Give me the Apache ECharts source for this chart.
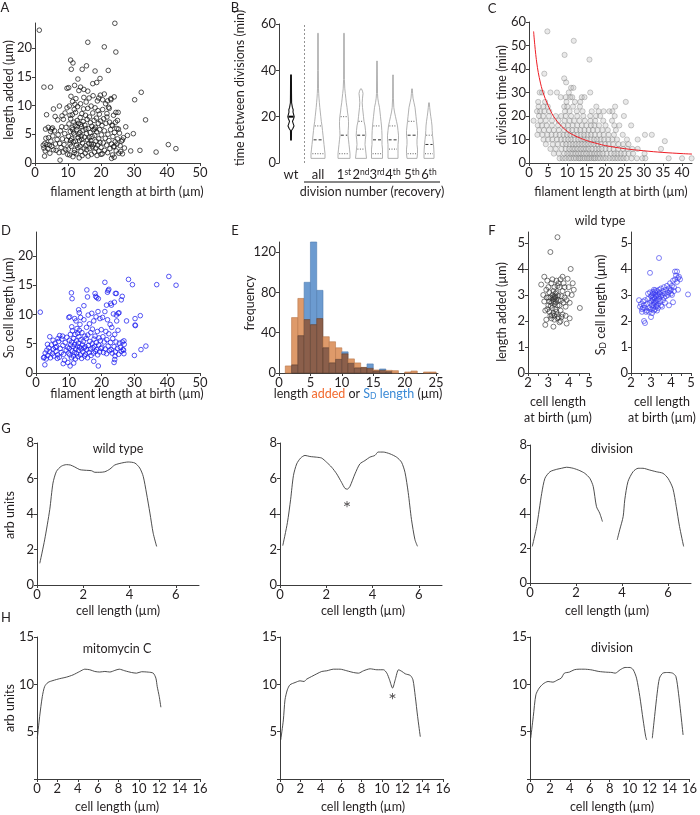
<!DOCTYPE html>
<html><head><meta charset="utf-8">
<script src="https://cdn.jsdelivr.net/npm/echarts@6/dist/echarts.min.js"></script>
<style>html,body{margin:0;padding:0;background:#fff}#c{width:700px;height:815px}</style>
</head><body><div id="c"></div>
<script>
// ---------------- DATA ----------------
// Panel A: filament length at birth (µm) vs length added (µm)
const A_points = [
[1.3,23.1],[24.2,24.3],[16,21],[21,20.2],[24.5,19.3],[10.8,17.9],[11.5,17.4],[11,16.3],[15.6,16.9],[14.3,16.3],[18.2,16],[22.2,16.1],[2.7,13.2],[4.7,13.2],[13,14.6],[19.7,14.7],[17.5,13.8],[18.7,14],[9.7,13],[10.2,13.1],[12,13.5],[13.8,13.2],[14.8,12.8],[16,12.5],[30.2,11],[32.2,12.3],[33.5,7.5],[29.8,5.1],[31.8,2.2],[29,2.1],[36.7,1.9],[40.4,3.2],[42.7,2.5],[27.5,6.3],[28,4.8],[26.5,4],[26,2],[24.5,8.8],[25,7.4],[24,11.5],[23,11.2],[22,10.8],[22.5,9.5],[21,12],[20.5,11],[19.3,11.3],[21.8,8],[23.5,6.5],[25.3,5.9],[24.8,3.3],[23.8,2.8],[24,1],[23.2,0.8],[20,1.5],
[2.5,3.1],[2.7,2.6],[3,3.4],[3.3,4.3],[3.1,2.1],[3.6,3.2],[3.9,2.5],[4.1,4.4],[4.4,3.1],[2.9,1.2],[4.5,1.7],[4.8,3.8],[5.1,2.9],[5.4,4.7],[5.6,2.3],[5.9,5.6],[6.2,3.3],[6.4,2.2],[6.7,4.1],[7,4.9],[7.3,1.8],[7.5,3.4],[7.7,5.6],[7.9,2.7],[8.1,6.3],[8.3,4.2],[8.5,1.9],[8.6,7.6],[8.8,3.2],[9,5.1],[9.1,8.7],[9.3,2.3],[9.4,6.2],[9.6,4],[9.7,9.6],[9.9,1.5],[4,6.2],[5,5.9],[3.5,8.4],[5.6,9.4],[6.1,8.1],[7.4,9.9],[6.9,7.5],[8.2,8.2],[7.6,0.5],[5.3,6.1],[4.7,5.5],[3.2,5.9],
[10.1,2.4],[10.2,4.6],[10.3,6.8],[10.4,9.9],[10.5,1.4],[10.6,3.3],[10.7,5.5],[10.8,7.7],[10.9,11.6],[11,2.9],[11.1,4.2],[11.2,6.1],[11.3,8.4],[11.4,10.7],[11.5,1.1],[11.6,3.7],[11.7,5.2],[11.8,7.1],[11.9,9.3],[12,2.2],[12.1,4.9],[12.2,6.6],[12.3,8.8],[12.4,11.2],[12.5,1.6],[12.6,3.1],[12.7,5.8],[12.8,7.4],[12.9,9.8],[13,2.7],[13.1,4.4],[13.2,6.9],[13.3,12.6],[13.4,0.9],[13.5,3.9],[13.6,5.3],[13.7,7.9],[13.8,10.3],[13.9,2],[14,4.7],[14.1,6.3],[14.2,8.6],[14.3,1.3],[14.4,3.5],[14.5,5.7],[14.6,7.2],[14.7,9.4],[14.8,11.4],[14.9,2.6],[12.2,3.8],[11.4,5.8],[13.3,5],[12.7,6.3],[10.8,3.9],[11.9,1.8],[13.6,2.9],[14.2,4.1],[10.6,8.3],[12.1,10.2],[13.9,6.7],
[15,4.5],[15.1,6.6],[15.2,1.7],[15.3,8.3],[15.4,3],[15.5,10.6],[15.6,5.1],[15.7,2.3],[15.8,7.6],[15.9,4],[16,9.5],[16.1,1.2],[16.2,6],[16.3,3.4],[16.4,11.3],[16.5,8],[16.6,2.5],[16.7,5.3],[16.8,7],[16.9,3.9],[17,9.9],[17.1,1.5],[17.2,6.4],[17.3,4.6],[17.4,2.8],[17.5,8.7],[17.6,11.7],[17.7,5.8],[17.8,3.2],[17.9,7.4],[18,1.9],[18.1,4.8],[18.2,9.6],[18.3,6.2],[18.4,2.6],[18.5,3.8],[18.6,7.8],[18.7,5.4],[18.8,1.3],[18.9,10.8],[19,3.1],[19.2,6.9],[19.3,4.2],[19.4,2.1],[19.5,8.5],[19.6,5.8],[19.7,3.6],[19.8,11.8],[19.9,7.3],[16.5,4.4],[17.1,3.3],[15.4,5.9],[18.1,5.9],[19.1,9.1],
[20,2.7],[20.1,4.9],[20.3,6.5],[20.4,1.6],[20.5,9.3],[20.7,3.5],[20.8,7.7],[21,5.6],[21.1,2.2],[21.3,4.3],[21.4,10.3],[21.5,6.9],[21.7,3.1],[21.8,8.6],[22,1.8],[22.1,5],[22.3,9.7],[22.4,3.9],[22.6,7.1],[22.7,2.5],[22.9,5.8],[23,11],[23.2,3.3],[23.3,6.6],[23.5,1.4],[23.6,4.6],[23.8,8.3],[24,2.9],[24.1,5.3],[24.3,3.7],[24.4,7.1],[24.6,2.1],[24.8,6],[25,4.2],[25.2,8.8],[25.4,1.7],[25.6,5.2],[25.8,3],[26.2,3.8],[26.5,1.6],[26.8,4.4],[27.1,2.6]
];

// Panel B: time between divisions (min) – violin profiles [minutes, relative half-width]
const B_labels = ['wt','all','1st','2nd','3rd','4th','5th','6th'];
const B_profiles = [
 [[10,0.4],[14,0.5],[15,2],[16,3],[17,2.2],[18,1.5],[19,2.5],[20,3.2],[21,2.6],[22,2],[23,2.2],[24,1.4],[26,0.6],[30,0.5],[38,0.4]],
 [[2,7],[4,7],[6,6.5],[8,6],[10,5.5],[12,5],[14,4.5],[16,4],[18,3.3],[20,2.8],[22,2.3],[24,1.8],[26,1.4],[28,1],[30,0.7],[32,0.5],[40,0.35],[56,0.3]],
 [[2,6],[4,6],[6,5.5],[8,5],[10,4.5],[12,4],[14,4.2],[16,4.5],[18,4.5],[20,4.2],[22,3.5],[24,3],[26,2.3],[28,1.8],[30,1.3],[32,0.8],[36,0.4],[56,0.3]],
 [[2,5.5],[4,5],[6,4.5],[8,4],[10,4.3],[12,4.8],[14,4.5],[16,4],[18,3],[20,2.5],[22,2],[24,1.5],[26,1.2],[28,1.5],[30,2],[31,1.5],[32,0.5]],
 [[2,5.5],[4,5.5],[6,5.5],[8,5],[10,5],[12,5],[14,4.8],[16,4.5],[18,4],[20,3.5],[22,3],[24,2.5],[26,1.5],[28,0.8],[30,0.5],[44,0.3]],
 [[2,5],[4,5],[6,5],[8,5],[10,5.5],[12,5.5],[14,5],[16,4.5],[18,3.5],[20,2.5],[22,1.5],[24,0.8],[28,0.4],[38,0.3]],
 [[2,5],[4,5.5],[6,5.5],[8,5],[10,5],[12,5.5],[14,5.5],[16,5],[18,4.5],[20,4],[22,3.5],[24,3],[26,2],[28,1],[30,0.6],[32,0.3]],
 [[2,5],[4,5],[6,4.8],[8,4.5],[10,4],[12,3.5],[14,3.2],[16,3],[18,2.5],[20,1.8],[22,1.2],[24,0.7],[26,0.3]]
];
const B_median = [20,10,12,12,10,10,12,8];
const B_q1 = [16,4,4,6,4,6,4,4];
const B_q3 = [22,16,20,18,16,16,18,12];

// Panel C: filament length at birth (µm) vs division time (min)
const C_points = [
[4.8,56],[11.7,52],[9.3,46],[15.8,44],[4,38],[9.2,36],[9.7,34.3],[11,32],[11.6,32],
[8.3,28],[9.6,28],[10.8,28],[11.3,28],[13.8,28],[14.5,28],
[2.8,30],[3.4,30],[5.6,30],[7.3,30],[10.4,30],[16,30],
[2.4,26],[4.2,26],[9.8,26],[12,26],[13.4,26],[25.3,26],
[2.5,24],[3.8,24],[4.9,24],[9.2,24],[10,24],[11.5,24],[13.3,24],[17.6,24],[22.5,24],
[2.1,22],[2.9,22],[4,22],[5.3,22],[9.4,22],[10.6,22],[12.5,22],[14,22],[16.4,22],[18.2,22],[19.5,22],[21,22],[21.8,22],
[2.6,20],[3.7,20],[5.2,20],[7,20],[8.4,20],[9.6,20],[11,20],[12.6,20],[14.2,20],[16,20],[17.5,20],[18.6,20],[22.4,20],[24.8,20],
[1.2,18],[3,18],[4.4,18],[6,18],[7.7,18],[9.3,18],[10.6,18],[11.8,18],[13.2,18],[14.6,18],[16.1,18],[17.3,18],[19.4,18],[21.7,18],
[2.3,16],[3.4,16],[4.6,16],[6,16],[7.6,16],[9,16],[10.2,16],[11.4,16],[12.6,16],[13.8,16],[15,16],[16.2,16],[17.1,16],[18.3,16],[20,16],[22.3,16],[23.6,16],[26.7,16],
[2.6,14],[3.9,14],[5.2,14],[6.5,14],[7.8,14],[9.2,14],[10.3,14],[11.3,14],[12.4,14],[13.4,14],[14.5,14],[15.6,14],[16.7,14],[17.9,14],[19.2,14],[20.6,14],[22.7,14],
[2.2,12],[3.5,12],[4.8,12],[5.9,12],[7,12],[8,12],[9,12],[9.9,12],[10.8,12],[11.7,12],[12.6,12],[13.5,12],[14.4,12],[15.3,12],[16.2,12],[17.2,12],[18.4,12],[19.5,12],[20.8,12],[22.2,12],[24.5,12],[30.3,12],[32.1,12],
[3.8,10],[5,10],[6.1,10],[7.3,10],[8.4,10],[9.3,10],[10.2,10],[11,10],[11.9,10],[12.8,10],[13.6,10],[14.4,10],[15.2,10],[16.1,10],[17,10],[17.8,10],[18.7,10],[19.6,10],[20.7,10],[21.8,10],[23,10],[25.6,10],[28.4,10],[35.5,9.3],
[4.4,8],[6.2,8],[7.5,8],[8.8,8],[9.7,8],[10.6,8],[11.4,8],[12.2,8],[13,8],[13.8,8],[14.6,8],[15.4,8],[16.2,8],[17,8],[17.9,8],[18.8,8],[19.9,8],[20.8,8],[22,8],[23.4,8],[24.6,8],[26,8],
[5.6,6],[7,6],[8.5,6],[9.6,6],[10.5,6],[11.3,6],[12,6],[12.7,6],[13.5,6],[14.2,6],[14.9,6],[15.6,6],[16.5,6],[17.4,6],[18.2,6],[19,6],[20,6],[21,6],[22.1,6],[23.3,6],[24.6,6],[25.7,6],[27,6],[28.4,6],[34.5,6],
[6.5,4],[7.8,4],[9.2,4],[10,4],[10.8,4],[11.5,4],[12.2,4],[12.9,4],[13.6,4],[14.3,4],[15,4],[15.8,4],[16.4,4],[17.1,4],[17.8,4],[18.5,4],[19.3,4],[20.3,4],[21.4,4],[22.3,4],[23.1,4],[24,4],[24.9,4],[26,4],[27.2,4],[30.2,4],
[8,2],[8.8,2],[9.5,2],[10.4,2],[11,2],[11.7,2],[12.3,2],[13,2],[13.4,2],[14,2],[14.6,2],[15.2,2],[15.7,2],[16.3,2],[16.9,2],[17.3,2],[18,2],[18.6,2],[19.4,2],[20.1,2],[21,2],[21.8,2],[22.5,2],[23.2,2],[24,2],[24.7,2],[25.5,2],[26.8,2],[28.2,2],[29.6,2],[30.4,2],[36.5,2],[40,2],[42.5,2]
];
const C_fit = [[1.2,56],[2,43],[3,34],[4,28.5],[5,24.5],[6,21],[7,18.5],[8,16.5],[10,13.5],[12,11.6],[15,9.6],[18,8.2],[20,7.4],[25,6.1],[30,5.2],[35,4.5],[40,4],[42.6,3.8]];

// Panel D: filament length at birth (µm) vs SD cell length (µm)
const D_points = [
[1.3,10.4],[40.5,16.5],[42.7,15],[36.8,15.1],[28.2,16],[29.4,15.1],[21,15.5],[22,14.1],[21.8,13.8],[22.2,14.3],[24.2,13.6],[24.5,13.6],[26.3,13.1],[26,12.5],[10.8,13.7],[11,12.7],[15.5,14.2],[15.7,13],[18,13.6],[18.2,13.1],[18.5,12.9],[19,12.7],[13,10.8],[13.2,10.3],[10,9.5],[10.3,9.6],[14.6,11.5],[21.5,11.6],[23,11.6],[22.8,11.9],[25.3,10.3],[24.5,9.9],[27.6,8.9],[30.2,9.3],[31.8,9.8],[30.2,8.2],[30.3,8.1],[33.5,4.6],[32,4],[30,3],[26.8,3.3],[26.5,4],[26.8,5.5],[24,2.3],[23.8,1.8],[19,1.2],[17.6,2],[8.3,1.6],[10.4,1.2],[9.7,1.8],[11.5,1.7],[2.7,1.4],[2.3,2.6],
[2.5,2.7],[2.8,3.4],[3.1,2.4],[3.3,3.9],[3.6,3],[3.9,4.3],[4.2,3.6],[4.4,2.6],[4.7,4.8],[5,3.3],[5.3,4.1],[5.5,2.9],[5.8,5.1],[6.1,3.7],[6.3,4.5],[6.6,3.1],[6.9,5.4],[7.1,2.7],[7.4,4.2],[7.7,3.5],[7.9,5.8],[8.2,4.7],[8.4,3.2],[8.7,2.2],[8.9,5.2],[9.2,3.9],[9.4,6.1],[9.6,4.4],[9.9,3.4],[3.5,4.9],[5.2,5.6],[6.7,5.9],[8.1,6.3],[4.2,6.2],[7.2,6.4],[6.5,2.5],[5.9,4.4],
[10.1,4.2],[10.2,5.6],[10.3,3.1],[10.5,6.6],[10.6,4.8],[10.8,2.6],[10.9,5.3],[11,3.8],[11.1,7.2],[11.3,4.5],[11.4,2.9],[11.5,5.9],[11.7,3.5],[11.8,4.9],[11.9,6.6],[12,2.4],[12.1,4.1],[12.3,5.5],[12.4,3.3],[12.5,7.6],[12.6,4.6],[12.8,2.8],[12.9,5.1],[13,3.9],[13.1,6.2],[13.3,4.4],[13.4,8.3],[13.5,3.1],[13.7,5.7],[13.8,4.1],[13.9,2.5],[14,6.9],[14.2,4.8],[14.3,3.6],[14.4,5.4],[14.6,9.1],[14.7,4.3],[14.8,2.9],[14.9,6.3],[12.2,8.9],[13.6,9.5],[11.8,9.3],[12.7,6.8],[13.2,7.3],[10.9,7.9],
[15,4.5],[15.1,3.2],[15.3,5.9],[15.4,7.8],[15.5,4],[15.7,2.6],[15.8,6.5],[15.9,9.9],[16,4.7],[16.2,3.5],[16.3,8.4],[16.4,5.4],[16.6,4.1],[16.7,6.9],[16.8,3],[17,10.2],[17.1,5],[17.2,7.5],[17.4,4.3],[17.5,3.4],[17.6,8.9],[17.7,5.8],[17.9,4.6],[18,6.3],[18.1,3.7],[18.3,9.6],[18.4,5.2],[18.5,4],[18.7,7.1],[18.8,3.1],[18.9,10.5],[19.1,4.8],[19.2,6],[19.4,3.6],[19.5,9.3],[19.6,5.5],[19.8,4.2],[19.9,7.4],
[20.1,4.4],[20.3,9.5],[20.4,6.2],[20.6,3.5],[20.8,5.3],[21,10.5],[21.1,4.1],[21.3,7.1],[21.5,3.3],[21.6,5.7],[21.8,9.1],[22,4.6],[22.2,6.7],[22.4,3.8],[22.6,8.3],[22.7,5.2],[22.9,4],[23.1,7.8],[23.2,3.4],[23.4,5.9],[23.6,10.1],[23.8,4.5],[24,6.6],[24.2,3.6],[24.4,5.3],[24.6,8.9],[24.8,4.2],[25,7.3],[25.2,3.2],[25.4,5.1],[25.7,4.4],[26,3.7],[26.3,5.3],[26.7,3.9],[26.9,4.9],[25.1,10.2],[23.9,12.1],[24.1,2.9]
];

// Panel E: histogram, bins of 1 µm starting at 1 µm
const E_binStart = [1,2,3,4,5,6,7,8,9,10,11,12,13,14,15,16,17,18,19,20,21,22,23,24];
const E_added   = [7,55,74,53,48,54,36,31,25,19,14,10,5.6,4.6,3,2.6,2.6,2.3,0,1,2,0,1,1];
const E_sd      = [0,8,37,90,130,82,25,10,13.5,21,9.6,5,5.3,9,2,4,1.3,0,0,0,0,0,0,0];

// Panel F: wild type, cell length at birth (µm)
const F_added = [
[2.65,3.4],[2.8,3.7],[2.95,3.55],[3.1,4.65],[3.45,5.22],[3.95,3.62],[4.1,4.0],[4.2,3.45],[4.0,3.3],[4.15,3.0],[4.55,2.5],[4.05,2.1],[3.9,1.9],[3.55,1.95],[3.25,1.78],[2.85,1.85],[2.9,2.05],[2.8,2.75],[2.75,3.0],[2.9,3.2],[3.0,3.3],[3.05,3.1],[3.1,2.9],[3.15,2.7],[3.2,2.5],[3.25,2.3],[3.3,2.2],[3.35,2.9],[3.4,3.1],[3.45,2.6],[3.5,2.8],[3.55,3.3],[3.6,2.4],[3.65,2.95],[3.7,3.15],[3.75,2.7],[3.8,3.3],[3.85,2.55],[3.9,2.8],[3.0,2.6],[3.05,2.35],[3.1,2.2],[3.15,3.45],[3.2,3.0],[3.25,2.75],[3.3,2.65],[3.35,2.45],[3.4,2.35],[3.45,3.35],[3.5,2.15],[3.28,2.85],[3.32,2.95],[3.22,2.82],[3.36,2.72],[3.18,2.22],[3.42,2.25],[3.6,2.0],[3.7,2.25],[3.8,2.9],[4.05,2.7],[3.95,3.05],[3.2,3.6],[3.3,3.3],[3.4,3.55],[3.5,3.45],[2.95,2.45],[3.0,2.9],[3.15,2.1],[3.3,2.05],[3.45,2.1],[3.6,3.6],[3.75,3.45],[3.85,2.2],[3.05,2.75],[2.85,2.4],[3.25,3.15],[3.55,2.6],[3.65,2.15],[3.35,3.05],[3.12,2.58],[3.38,2.82],[3.26,2.92],[2.92,2.9],[3.62,2.78],[3.48,2.98],[4.25,3.2],[3.7,3.7]
];
const F_sd = [
[3.4,4.42],[2.95,3.85],[4.3,3.9],[4.85,3.02],[4.1,2.72],[2.65,2.0],[2.7,1.92],[3.0,2.15],[2.4,2.8],[2.45,2.55],[2.5,2.65],[2.55,2.45],[2.6,2.75],[2.65,2.6],[2.7,2.5],[2.75,2.35],[2.8,2.65],[2.85,2.85],[2.9,2.5],[2.95,2.7],[3.0,2.95],[3.05,2.6],[3.1,2.8],[3.1,3.05],[3.15,2.4],[3.15,2.9],[3.2,2.7],[3.2,3.1],[3.25,2.55],[3.25,2.95],[3.3,2.8],[3.3,3.15],[3.35,2.65],[3.35,3.0],[3.4,2.85],[3.4,3.2],[3.45,2.75],[3.45,3.1],[3.5,2.95],[3.5,3.25],[3.55,3.0],[3.6,3.15],[3.6,2.8],[3.65,3.3],[3.7,3.05],[3.75,3.2],[3.8,3.35],[3.85,3.1],[3.9,3.25],[3.95,3.45],[4.0,3.2],[4.05,3.35],[4.1,3.55],[4.15,3.3],[4.2,3.6],[4.25,3.75],[4.3,3.5],[4.35,3.65],[4.4,3.7],[4.45,3.6],[4.2,3.9],[4.0,3.05],[3.9,2.6],[3.7,2.7],[3.1,2.5],[3.05,2.3],[2.9,2.35],[3.2,2.45],[3.3,2.4],[3.35,2.5],[3.15,3.2],[3.05,3.0],[2.95,3.1],[2.85,3.05],[2.8,2.4],[3.12,2.62],[3.18,2.85],[3.22,3.0],[3.08,2.9],[3.28,2.6],[3.38,2.95],[3.42,3.05],[3.5,2.6],[3.55,2.55],[3.65,2.9],[3.75,2.95],[3.85,3.0],[3.95,3.15],[4.05,3.0],[4.15,3.15],[4.35,3.2],[2.6,2.5],[2.55,2.35],[2.7,2.8],[3.0,2.45],[3.15,2.7],[3.25,2.75],[3.02,2.78],[3.1,3.12],[3.22,3.18]
];

// Panel G: intensity profiles (arb units) along cell length (µm)
const G_wt = [[0.12,1.22],[0.33,2.54],[0.55,4.24],[0.69,5.74],[0.84,6.4],[1.05,6.69],[1.27,6.78],[1.44,6.76],[1.63,6.65],[1.85,6.5],[2.14,6.46],[2.35,6.44],[2.5,6.35],[2.71,6.35],[2.93,6.38],[3.15,6.53],[3.36,6.76],[3.65,6.87],[3.94,6.93],[4.23,6.87],[4.44,6.59],[4.59,6.12],[4.73,5.18],[4.88,4.05],[5.02,2.92],[5.17,2.17]];
const G_constrict = [[0.12,2.22],[0.32,3.51],[0.46,4.83],[0.58,6.16],[0.72,6.82],[0.89,7.15],[1.08,7.3],[1.29,7.24],[1.58,7.2],[1.8,7.15],[2.01,6.92],[2.23,6.64],[2.45,6.26],[2.66,5.78],[2.81,5.44],[2.91,5.4],[3.02,5.55],[3.24,6.26],[3.45,6.82],[3.67,7.01],[3.88,7.2],[4.1,7.3],[4.24,7.49],[4.46,7.49],[4.75,7.39],[5.04,7.2],[5.25,6.92],[5.4,6.35],[5.54,5.21],[5.68,3.7],[5.83,2.56],[5.94,2.18]];
const G_div1 = [[0.1,2.12],[0.29,3.28],[0.51,5.2],[0.65,6.07],[0.87,6.45],[1.16,6.59],[1.37,6.65],[1.59,6.71],[1.88,6.65],[2.17,6.51],[2.38,6.36],[2.6,6.07],[2.75,5.59],[2.89,4.43],[3.03,4.05],[3.15,3.56]];
const G_div2 = [[3.79,2.5],[3.9,3.08],[4.05,3.85],[4.12,4.82],[4.26,5.88],[4.48,6.45],[4.7,6.65],[4.91,6.65],[5.2,6.55],[5.49,6.45],[5.78,6.36],[6.0,6.07],[6.21,5.49],[6.36,4.43],[6.5,3.28],[6.68,2.12]];
const G_star = [[2.9,4.6]];

// Panel H: mitomycin C profiles
const H_mito = [[0.03,4.3],[0.26,6.6],[0.52,8.7],[0.75,9.77],[1.08,10.2],[1.57,10.4],[2.23,10.6],[2.89,10.76],[3.54,11.0],[4.2,11.36],[4.69,11.6],[5.18,11.54],[5.67,11.36],[6.16,11.3],[6.66,11.36],[7.15,11.3],[7.64,11.47],[8.07,11.6],[8.62,11.43],[9.28,11.25],[9.77,11.18],[10.26,11.33],[10.92,11.29],[11.41,11.18],[11.67,10.65],[11.8,9.77],[12.0,8.7],[12.16,7.58]];
const H_constrict = [[0.07,4.12],[0.33,6.24],[0.49,8.36],[0.72,9.42],[0.98,9.95],[1.48,10.19],[1.97,10.37],[2.36,10.3],[2.62,10.55],[3.11,10.83],[3.61,11.11],[4.1,11.36],[4.59,11.43],[5.25,11.6],[5.9,11.6],[6.56,11.43],[7.21,11.25],[7.7,11.18],[8.2,11.43],[8.85,11.64],[9.51,11.54],[10.16,11.54],[10.49,11.18],[10.75,10.48],[11.05,9.6],[11.31,10.48],[11.64,11.54],[11.97,11.36],[12.3,11.11],[12.79,10.94],[13.05,10.48],[13.28,8.71],[13.51,6.59],[13.77,4.47]];
const H_div1 = [[0.07,4.3],[0.33,6.6],[0.59,8.9],[0.92,9.6],[1.32,10.05],[1.81,10.3],[2.3,10.23],[2.8,10.48],[3.13,10.65],[3.45,11.18],[3.95,11.29],[4.44,11.54],[4.93,11.6],[5.43,11.6],[6.09,11.54],[6.91,11.36],[7.57,11.29],[8.22,11.25],[8.55,11.18],[9.05,11.54],[9.54,11.78],[10.03,11.78],[10.36,11.54],[10.69,10.65],[11.02,8.71],[11.35,6.24],[11.61,4.47],[11.71,4.12]];
const H_div2 = [[12.27,4.3],[12.5,6.6],[12.76,9.06],[12.99,10.65],[13.32,11.18],[13.82,11.25],[14.31,11.18],[14.64,10.83],[14.9,9.06],[15.13,6.94],[15.36,4.65]];
const H_star = [[11.05,8.8]];

// Tick values
const T_A_x = [0,10,20,30,40,50], T_A_y = [0,5,10,15,20];
const T_B_y = [0,20,40,60];
const T_C_x = [0,5,10,15,20,25,30,35,40], T_C_y = [0,10,20,30,40,50,60];
const T_E_x = [0,5,10,15,20,25], T_E_y = [0,40,80,120];
const T_F_x = [2,3,4,5], T_F_xminor = [2,2.5,3,3.5,4,4.5,5], T_F_y = [0,1,2,3,4,5];
const T_G_x = [0,2,4,6], T_G_y = [0,2,4,6,8];
const T_H_x = [0,2,4,6,8,10,12,14,16], T_H_y = [5,10,15];

// ---------------- LAYOUT / STYLE ----------------
const FONT = 'Lato, "Liberation Sans", sans-serif';
const TXT = '#231f20';
const AX = '#3c3c3c';
const TICKFS = 13, TITLEFS = 12.5;
const B_pos = [12,39,65,82,98,114,133,150]; // violin centres along panel B's horizontal scale
const B_sep = 25;

const grids = [
 {left:35, top:23, width:165, height:140},   //0 A
 {left:279, top:24, width:161, height:139},  //1 B
 {left:529, top:22, width:163, height:141},  //2 C
 {left:36, top:232, width:164, height:141},  //3 D
 {left:279, top:242, width:159, height:131}, //4 E
 {left:528, top:232, width:61, height:141},  //5 F1
 {left:631, top:232, width:60, height:141},  //6 F2
 {left:37, top:443, width:162, height:142},  //7 G1
 {left:280, top:443, width:162, height:142}, //8 G2
 {left:530, top:445, width:161, height:138}, //9 G3
 {left:37, top:637, width:163, height:142},  //10 H1
 {left:280, top:637, width:163, height:142}, //11 H2
 {left:530, top:637, width:162, height:142}  //12 H3
];

function axis(gi, min, max, labels, ticks, extra) {
  const a = {
    type:'value', gridIndex:gi, min:min, max:max,
    axisLine:{show:true, onZero:false, lineStyle:{color:AX, width:1}},
    axisTick:{show:true, length:3, customValues: ticks || labels, lineStyle:{color:AX, width:1}},
    axisLabel:{customValues: labels, color:TXT, fontFamily:FONT, fontSize:TICKFS, margin:3},
    splitLine:{show:false}
  };
  if (extra) {
    for (const k in extra) {
      if (typeof extra[k] === 'object' && !Array.isArray(extra[k]) && a[k]) Object.assign(a[k], extra[k]);
      else a[k] = extra[k];
    }
  }
  return a;
}

const B_supMap = {};
B_labels.forEach((l,i)=>{
  const m = l.match(/^(\d)(\w+)$/);
  B_supMap[B_pos[i]] = m ? m[1] + '{s|' + m[2] + '}' : l;
});

const xAxes = [
 axis(0,0,50,T_A_x),
 axis(1,0,161,B_pos,B_pos,{axisLine:{show:false}, axisTick:{show:false},
   axisLabel:{formatter:v=>B_supMap[v]||'', margin:5, rich:{s:{fontSize:8.5, verticalAlign:'top', color:TXT, fontFamily:FONT, padding:[0,0,5,0]}}}}),
 axis(2,0,42.6,T_C_x),
 axis(3,0,50,T_A_x),
 axis(4,0,25.3,T_E_x),
 axis(5,2,5,T_F_x,T_F_xminor),
 axis(6,2,5,T_F_x,T_F_xminor),
 axis(7,0,7,T_G_x), axis(8,0,7,T_G_x), axis(9,0,7,T_G_x),
 axis(10,0,16,T_H_x), axis(11,0,16,T_H_x), axis(12,0,16,T_H_x)
];
const yAxes = [
 axis(0,0,24.35,T_A_y),
 axis(1,0,60,T_B_y),
 axis(2,0,60,T_C_y),
 axis(3,0,24.1,T_A_y),
 axis(4,0,130,T_E_y),
 axis(5,0,5.42,T_F_y), axis(6,0,5.42,T_F_y),
 axis(7,0,8,T_G_y), axis(8,0,8,T_G_y), axis(9,0,8,T_G_y),
 axis(10,0,15,T_H_y,[0,5,10,15]), axis(11,0,15,T_H_y,[0,5,10,15]), axis(12,0,15,T_H_y,[0,5,10,15])
];

function interpW(prof, y) {
  if (y <= prof[0][0]) return prof[0][1];
  for (let k=1;k<prof.length;k++) {
    if (y <= prof[k][0]) {
      const t = (y - prof[k-1][0])/(prof[k][0]-prof[k-1][0]);
      return prof[k-1][1] + t*(prof[k][1]-prof[k-1][1]);
    }
  }
  return prof[prof.length-1][1];
}

function violinItem(params, api) {
  const i = api.value(2);
  const cx = api.value(0);
  const prof = B_profiles[i];
  const isWt = i === 0;
  const right = prof.map(p => api.coord([cx + p[1], p[0]]));
  const left = prof.slice().reverse().map(p => api.coord([cx - p[1], p[0]]));
  const stroke = isWt ? '#111' : '#a8a8a8';
  const children = [{type:'polygon', shape:{points: right.concat(left)}, style:{fill:'#fff', stroke:stroke, lineWidth: isWt?1.1:0.9}}];
  const mk = (y, dash, w) => {
    const hw = interpW(prof, y);
    const p1 = api.coord([cx - hw*0.8, y]), p2 = api.coord([cx + hw*0.8, y]);
    return {type:'line', shape:{x1:p1[0], y1:p1[1], x2:p2[0], y2:p2[1]}, style:{stroke: isWt ? '#000' : '#333', lineWidth:w, lineDash:dash}};
  };
  if (isWt) {
    children.push(mk(B_median[i], null, 2));
  } else {
    children.push(mk(B_median[i], [3,2], 1));
    children.push(mk(B_q1[i], [1,1.5], 0.8));
    children.push(mk(B_q3[i], [1,1.5], 0.8));
  }
  return {type:'group', children};
}

function decorB(params, api) {
  const p0 = api.coord([B_sep, 0]);
  const p1 = api.coord([161, 0]);
  return {type:'line', shape:{x1:p0[0], y1:p0[1]+19, x2:p1[0], y2:p1[1]+19}, style:{stroke:'#111', lineWidth:1}};
}

const E_colors = {blue:'#6c9bd0', orange:'#de9a6a', brown:'#8b5f4b'};
function histItem(params, api) {
  const x0 = api.value(0), o = api.value(1), b = api.value(2);
  const x1 = x0 + 1;
  const rect = (ya, yb, fill, stroke) => {
    const p0 = api.coord([x0, yb]), p1 = api.coord([x1, ya]);
    return {type:'rect', shape:{x:p0[0], y:p0[1], width:p1[0]-p0[0], height:p1[1]-p0[1]}, style:{fill, stroke, lineWidth:0.6}};
  };
  const lo = Math.min(o,b), hi = Math.max(o,b);
  const ch = [];
  if (hi > lo) ch.push(rect(lo, hi, o > b ? E_colors.orange : E_colors.blue, o > b ? '#b9774a' : '#4f7cb0'));
  if (lo > 0) ch.push(rect(0, lo, E_colors.brown, '#5f3f30'));
  return {type:'group', children: ch};
}

const lineStyleProf = {color:'#3a3a3a', width:0.9};
function profSeries(data, gi) {
  return {type:'line', xAxisIndex:gi, yAxisIndex:gi, data, showSymbol:false, symbol:'none', smooth:0.25, lineStyle:lineStyleProf, silent:true, animation:false};
}
function starSeries(data, gi) {
  return {type:'scatter', xAxisIndex:gi, yAxisIndex:gi, data, symbolSize:1, itemStyle:{color:'rgba(0,0,0,0)'},
    label:{show:true, position:'inside', formatter:'*', fontSize:20, color:TXT, fontFamily:FONT, offset:[0,5]}};
}

const series = [
 {type:'scatter', xAxisIndex:0, yAxisIndex:0, data:A_points, symbol:'circle', symbolSize:4.6,
  itemStyle:{color:'rgba(255,255,255,0)', borderColor:'#111', borderWidth:0.9}},
 {type:'custom', xAxisIndex:1, yAxisIndex:1, renderItem:violinItem, data:B_labels.map((l,i)=>[B_pos[i],0,i]),
  markLine:{silent:true, symbol:'none', label:{show:false}, lineStyle:{color:'#777', type:[2,2], width:0.8}, data:[{xAxis:B_sep}], animation:false}},
 {type:'custom', xAxisIndex:1, yAxisIndex:1, renderItem:decorB, data:[[B_sep,0]], clip:false},
 {type:'scatter', xAxisIndex:2, yAxisIndex:2, data:C_points, symbol:'circle', symbolSize:5.2,
  itemStyle:{color:'rgba(175,175,175,0.35)', borderColor:'rgba(110,110,110,0.55)', borderWidth:0.8}},
 {type:'line', xAxisIndex:2, yAxisIndex:2, data:C_fit, showSymbol:false, symbol:'none', smooth:0.4, lineStyle:{color:'#ee1c24', width:1}},
 {type:'scatter', xAxisIndex:3, yAxisIndex:3, data:D_points, symbol:'circle', symbolSize:4.6,
  itemStyle:{color:'rgba(255,255,255,0)', borderColor:'#1515ee', borderWidth:0.9}},
 {type:'custom', xAxisIndex:4, yAxisIndex:4, renderItem:histItem, data:E_binStart.map((s,i)=>[s,E_added[i],E_sd[i]])},
 {type:'scatter', xAxisIndex:5, yAxisIndex:5, data:F_added, symbol:'circle', symbolSize:5,
  itemStyle:{color:'rgba(255,255,255,0)', borderColor:'#333', borderWidth:0.8}},
 {type:'scatter', xAxisIndex:6, yAxisIndex:6, data:F_sd, symbol:'circle', symbolSize:5,
  itemStyle:{color:'rgba(255,255,255,0)', borderColor:'#3a3af0', borderWidth:0.8}},
 profSeries(G_wt,7), profSeries(G_constrict,8), profSeries(G_div1,9), profSeries(G_div2,9), starSeries(G_star,8),
 profSeries(H_mito,10), profSeries(H_constrict,11), profSeries(H_div1,12), profSeries(H_div2,12), starSeries(H_star,11)
];

function T(text, x, y, opt) {
  opt = opt || {};
  return {type:'text', x, y, rotation: opt.rot ? Math.PI/2 : 0, silent:true,
    style:Object.assign({text, fill:TXT, fontFamily:FONT, fontSize:opt.size||TITLEFS, align:'center', verticalAlign:'middle', textAlign:'center', textVerticalAlign:'middle'}, opt.rich ? {rich:opt.rich} : {})};
}
const subRich = {n:{fontSize:TITLEFS, fontFamily:FONT, fill:TXT}, s:{fontSize:8.5, fontFamily:FONT, fill:TXT, verticalAlign:'bottom'}};
const eRich = {
  k:{fontSize:TITLEFS, fontFamily:FONT, fill:TXT},
  o:{fontSize:TITLEFS, fontFamily:FONT, fill:'#f26a2e'},
  b:{fontSize:TITLEFS, fontFamily:FONT, fill:'#3b8ad6'},
  bs:{fontSize:8.5, fontFamily:FONT, fill:'#3b8ad6', verticalAlign:'bottom'}
};

const graphics = [
 T('A',5,8,{size:13}), T('B',235,8,{size:13}), T('C',492,9,{size:13}), T('D',6,231,{size:13}), T('E',235,231,{size:13}), T('F',492,231,{size:13}), T('G',6,429,{size:13}), T('H',6,618,{size:13}),
 T('filament length at birth (µm)',127,192), T('length added (µm)',9,90,{rot:true}),
 T('time between divisions (min)',240,88,{rot:true}), T('division number (recovery)',372,192),
 T('division time (min)',502,95,{rot:true}), T('filament length at birth (µm)',611,192),
 T('{n|S}{s|D}{n| cell length (µm)}',9,308,{rot:true, rich:subRich}), T('filament length at birth (µm)',127,394),
 T('frequency',250,303,{rot:true}),
 T('{k|length }{o|added}{k| or }{b|S}{bs|D}{b| length}{k| (µm)}',358,394,{rich:eRich}),
 T('wild type',600,221),
 T('length added (µm)',502,312,{rot:true}), T('{n|S}{s|D}{n| cell length (µm)}',601,305,{rot:true, rich:subRich}),
 T('cell length',558,402), T('at birth (µm)',558,418), T('cell length',662,402), T('at birth (µm)',662,418),
 T('arb units',10,515,{rot:true}), T('cell length (µm)',118,611), T('cell length (µm)',363,611), T('cell length (µm)',607,611),
 T('wild type',118,449), T('division',612,449),
 T('arb units',10,708,{rot:true}), T('cell length (µm)',117,807), T('cell length (µm)',363,807), T('cell length (µm)',612,807),
 T('mitomycin C',117,649), T('division',612,648)
];

const chart = echarts.init(document.getElementById('c'), null, {renderer:'canvas'});
chart.setOption({
  animation:false,
  backgroundColor:'#fff',
  textStyle:{fontFamily:FONT},
  grid:grids, xAxis:xAxes, yAxis:yAxes, series, graphic:graphics
});
</script></body></html>
